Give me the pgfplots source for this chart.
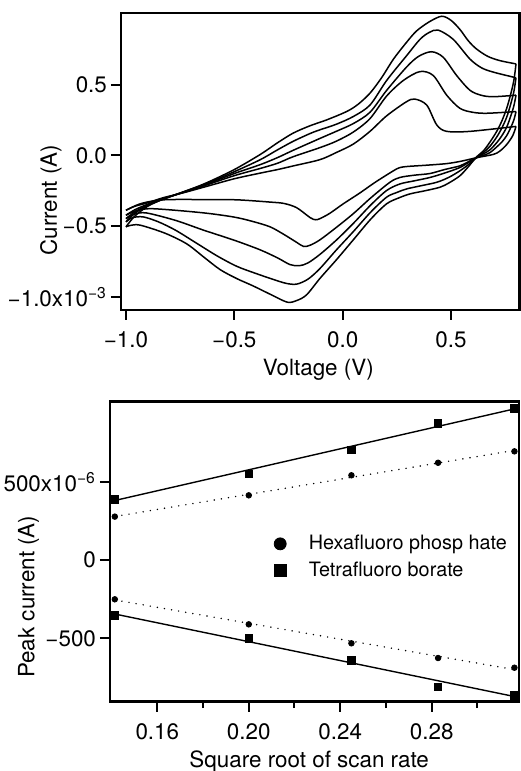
\documentclass[border=0pt]{standalone}
\usepackage{fontspec}
\setmainfont{TeX Gyre Heros}
\usepackage{pgfplots}
\pgfplotsset{compat=1.18}
\newcommand{\fnt}{\fontsize{11.2pt}{13.5pt}\selectfont}
\newcommand{\lfnt}{\fontsize{9.9pt}{12pt}\selectfont}
\begin{document}
\begin{tikzpicture}
\pgfplotsset{
 mystyle/.style={
  scale only axis,
  axis line style={line width=1.3pt},
  tick align=outside,
  xtick pos=bottom, ytick pos=left,
  major tick length=5pt, minor tick length=3.2pt,
  tick style={black, line width=1pt},
  tick label style={font=\fnt},
  xticklabel style={yshift=-2.5pt},
  yticklabel style={xshift=1.5pt},
  label style={font=\fnt},
  scaled ticks=false,
  /pgf/number format/assume math mode=true,
 },
 cv/.style={black, line width=0.75pt, smooth, tension=0.5, no marks},
}
% ---------------- top: cyclic voltammograms ----------------
\begin{axis}[mystyle, at={(60.5pt,230.5pt)}, anchor=south west,
 width=199.35pt, height=148.5pt,
 xmin=-1.023, xmax=0.817, ymin=-1.093, ymax=1.007,
 xtick={-1,-0.5,0,0.5}, xticklabels={−1.0,−0.5,0.0,0.5},
 ytick={-1,-0.5,0,0.5}, yticklabels={−1.0x10\textsuperscript{−3},−0.5,0.0,0.5},
 xlabel={Voltage (V)}, ylabel={Current (A)},
 xlabel style={at={(axis description cs:0.495,-0.2205)}, anchor=base},
 ylabel style={at={(axis description cs:-0.176,0.37)}, anchor=center},
 ]
% curve 1
\addplot[cv] coordinates {(-1.0,-0.505) (-0.96,-0.43) (-0.9,-0.36) (-0.83,-0.31) (-0.73,-0.255) (-0.63,-0.195) (-0.5,-0.10) (-0.38,0.007) (-0.3,0.09) (-0.228,0.158) (-0.15,0.21) (-0.074,0.251) (0.018,0.31) (0.07,0.36) (0.126,0.44) (0.18,0.55) (0.234,0.68) (0.295,0.80) (0.341,0.88) (0.40,0.945) (0.457,0.984) (0.50,0.955) (0.541,0.891) (0.58,0.81) (0.618,0.752) (0.67,0.70) (0.726,0.67) (0.8,0.647)};
\addplot[cv] coordinates {(0.8,0.647) (0.79,0.53) (0.775,0.43) (0.757,0.333) (0.735,0.245) (0.711,0.17) (0.68,0.095) (0.649,0.031) (0.618,-0.01) (0.58,-0.08) (0.541,-0.144) (0.49,-0.195) (0.449,-0.225) (0.38,-0.25) (0.311,-0.272) (0.26,-0.30) (0.203,-0.342) (0.13,-0.45) (0.049,-0.597) (-0.03,-0.74) (-0.105,-0.87) (-0.166,-0.985) (-0.21,-1.025) (-0.255,-1.038) (-0.33,-0.985) (-0.413,-0.923) (-0.49,-0.87) (-0.566,-0.807) (-0.64,-0.72) (-0.72,-0.625) (-0.82,-0.55) (-0.935,-0.493) (-0.98,-0.495) (-1.0,-0.505)};
% curve 2
\addplot[cv] coordinates {(-1.0,-0.47) (-0.96,-0.41) (-0.9,-0.355) (-0.83,-0.31) (-0.73,-0.255) (-0.63,-0.20) (-0.5,-0.115) (-0.38,-0.03) (-0.3,0.04) (-0.228,0.10) (-0.15,0.155) (-0.105,0.181) (-0.03,0.22) (0.049,0.275) (0.126,0.356) (0.203,0.53) (0.295,0.705) (0.357,0.821) (0.40,0.87) (0.441,0.886) (0.51,0.821) (0.587,0.682) (0.64,0.62) (0.695,0.589) (0.8,0.549)};
\addplot[cv] coordinates {(0.8,0.549) (0.79,0.45) (0.775,0.36) (0.757,0.27) (0.735,0.195) (0.711,0.13) (0.68,0.065) (0.649,0.02) (0.618,-0.015) (0.58,-0.065) (0.541,-0.109) (0.49,-0.155) (0.434,-0.19) (0.36,-0.215) (0.295,-0.237) (0.25,-0.262) (0.203,-0.295) (0.13,-0.40) (0.049,-0.539) (-0.03,-0.67) (-0.105,-0.80) (-0.16,-0.875) (-0.212,-0.91) (-0.26,-0.905) (-0.32,-0.877) (-0.40,-0.835) (-0.489,-0.784) (-0.58,-0.71) (-0.674,-0.621) (-0.77,-0.53) (-0.85,-0.47) (-0.92,-0.435) (-0.97,-0.44) (-1.0,-0.47)};
% curve 3
\addplot[cv] coordinates {(-1.0,-0.447) (-0.96,-0.40) (-0.9,-0.35) (-0.83,-0.31) (-0.73,-0.258) (-0.63,-0.205) (-0.5,-0.128) (-0.38,-0.065) (-0.3,-0.015) (-0.23,0.035) (-0.105,0.12) (-0.03,0.17) (0.049,0.225) (0.126,0.305) (0.203,0.46) (0.295,0.625) (0.35,0.70) (0.41,0.733) (0.464,0.694) (0.526,0.565) (0.587,0.461) (0.64,0.425) (0.695,0.415) (0.8,0.426)};
\addplot[cv] coordinates {(0.8,0.426) (0.79,0.35) (0.775,0.275) (0.757,0.2) (0.735,0.14) (0.711,0.09) (0.68,0.04) (0.649,0.01) (0.618,-0.015) (0.58,-0.05) (0.541,-0.086) (0.47,-0.125) (0.403,-0.156) (0.33,-0.18) (0.264,-0.202) (0.203,-0.248) (0.13,-0.35) (0.049,-0.481) (-0.03,-0.60) (-0.105,-0.70) (-0.16,-0.76) (-0.20,-0.78) (-0.243,-0.772) (-0.30,-0.725) (-0.382,-0.667) (-0.5,-0.60) (-0.643,-0.528) (-0.77,-0.46) (-0.905,-0.407) (-0.96,-0.415) (-1.0,-0.447)};
% curve 4
\addplot[cv] coordinates {(-1.0,-0.423) (-0.96,-0.385) (-0.9,-0.345) (-0.83,-0.305) (-0.73,-0.26) (-0.63,-0.21) (-0.5,-0.143) (-0.38,-0.092) (-0.3,-0.055) (-0.23,-0.01) (-0.105,0.055) (-0.03,0.10) (0.049,0.165) (0.126,0.26) (0.203,0.42) (0.28,0.53) (0.357,0.593) (0.418,0.565) (0.48,0.426) (0.541,0.333) (0.60,0.305) (0.665,0.298) (0.8,0.31)};
\addplot[cv] coordinates {(0.8,0.31) (0.79,0.25) (0.775,0.195) (0.757,0.14) (0.735,0.095) (0.711,0.06) (0.68,0.02) (0.649,0.0) (0.618,-0.016) (0.58,-0.045) (0.541,-0.074) (0.47,-0.10) (0.403,-0.128) (0.33,-0.14) (0.264,-0.156) (0.218,-0.19) (0.13,-0.30) (0.049,-0.412) (-0.03,-0.51) (-0.105,-0.597) (-0.15,-0.635) (-0.18,-0.644) (-0.212,-0.615) (-0.27,-0.56) (-0.335,-0.505) (-0.42,-0.465) (-0.505,-0.435) (-0.65,-0.405) (-0.874,-0.377) (-0.95,-0.39) (-1.0,-0.423)};
% curve 5
\addplot[cv] coordinates {(-1.0,-0.388) (-0.96,-0.36) (-0.9,-0.335) (-0.83,-0.30) (-0.73,-0.262) (-0.63,-0.22) (-0.5,-0.165) (-0.38,-0.125) (-0.3,-0.10) (-0.23,-0.075) (-0.105,-0.03) (-0.03,0.02) (0.049,0.08) (0.126,0.17) (0.203,0.28) (0.295,0.38) (0.334,0.398) (0.388,0.356) (0.434,0.216) (0.48,0.17) (0.587,0.17) (0.8,0.205)};
\addplot[cv] coordinates {(0.8,0.205) (0.785,0.14) (0.757,0.077) (0.725,0.03) (0.695,0.007) (0.618,-0.016) (0.55,-0.04) (0.48,-0.058) (0.38,-0.07) (0.30,-0.078) (0.264,-0.086) (0.234,-0.109) (0.15,-0.19) (0.08,-0.265) (0.003,-0.342) (-0.06,-0.41) (-0.105,-0.447) (-0.125,-0.455) (-0.15,-0.44) (-0.212,-0.37) (-0.27,-0.34) (-0.335,-0.33) (-0.489,-0.314) (-0.65,-0.312) (-0.828,-0.314) (-0.93,-0.34) (-1.0,-0.388)};
\end{axis}
% ---------------- bottom: peak currents ----------------
\begin{axis}[mystyle, at={(55pt,34.65pt)}, anchor=south west,
 width=204.5pt, height=150pt,
 xmin=0.1393, xmax=0.3182, ymin=-905, ymax=1011,
 xtick={0.16,0.2,0.24,0.28}, xticklabels={0.16,0.20,0.24,0.28},
 minor xtick={0.18,0.22,0.26,0.30},
 ytick={-500,0,500}, yticklabels={−500,0,500x10\textsuperscript{−6}},
 xlabel={Square root of scan rate}, ylabel={Peak current (A)},
 xlabel style={at={(axis description cs:0.487,-0.22)}, anchor=base},
 ylabel style={at={(axis description cs:-0.199,0.35)}, anchor=center},
 legend style={at={(axis description cs:0.399,0.482)}, anchor=west, draw=none, fill=none,
   font=\lfnt, row sep=0.5pt, inner sep=0pt},
 legend cell align=left,
 ]
% fit lines
\addplot[forget plot, black, line width=0.7pt] coordinates {(0.1414,380) (0.3162,965)};
\addplot[forget plot, black, line width=0.7pt] coordinates {(0.1414,-345) (0.3162,-872)};
\addplot[forget plot, black, line width=0.8pt, line cap=round, dash pattern=on 0pt off 3.6pt] coordinates {(0.1414,278) (0.3162,700)};
\addplot[forget plot, black, line width=0.8pt, line cap=round, dash pattern=on 0pt off 3.6pt] coordinates {(0.1414,-255) (0.3162,-700)};
% data
\addplot[forget plot, only marks, mark=*, mark size=1.4pt, black] coordinates {(0.1414,277) (0.2,413) (0.2449,541) (0.2828,621) (0.3162,694)};
\addplot[forget plot, only marks, mark=*, mark size=1.4pt, black] coordinates {(0.1414,-251) (0.2,-411) (0.2449,-532) (0.2828,-626) (0.3162,-688)};
\addplot[forget plot, only marks, mark=square*, mark size=1.9pt, black] coordinates {(0.1414,387) (0.2,549) (0.2449,702) (0.2828,873) (0.3162,969)};
\addplot[forget plot, only marks, mark=square*, mark size=1.9pt, black] coordinates {(0.1414,-353) (0.2,-500) (0.2449,-643) (0.2828,-811) (0.3162,-866)};
\addlegendimage{legend image code/.code={\path[draw=none,fill=none] (-3pt,0) -- (12.3pt,0); \fill[black] (0,0) circle (3pt);}}
\addlegendentry{Hexafluoro phosp hate}
\addlegendimage{legend image code/.code={\path[draw=none,fill=none] (-3pt,0) -- (12.3pt,0); \fill[black] (-3.1pt,-3.1pt) rectangle (3.1pt,3.1pt);}}
\addlegendentry{Tetrafluoro borate}
\end{axis}
\pgfresetboundingbox
\path[use as bounding box] (0,0) rectangle (260pt,385.5pt);
\end{tikzpicture}
\end{document}
